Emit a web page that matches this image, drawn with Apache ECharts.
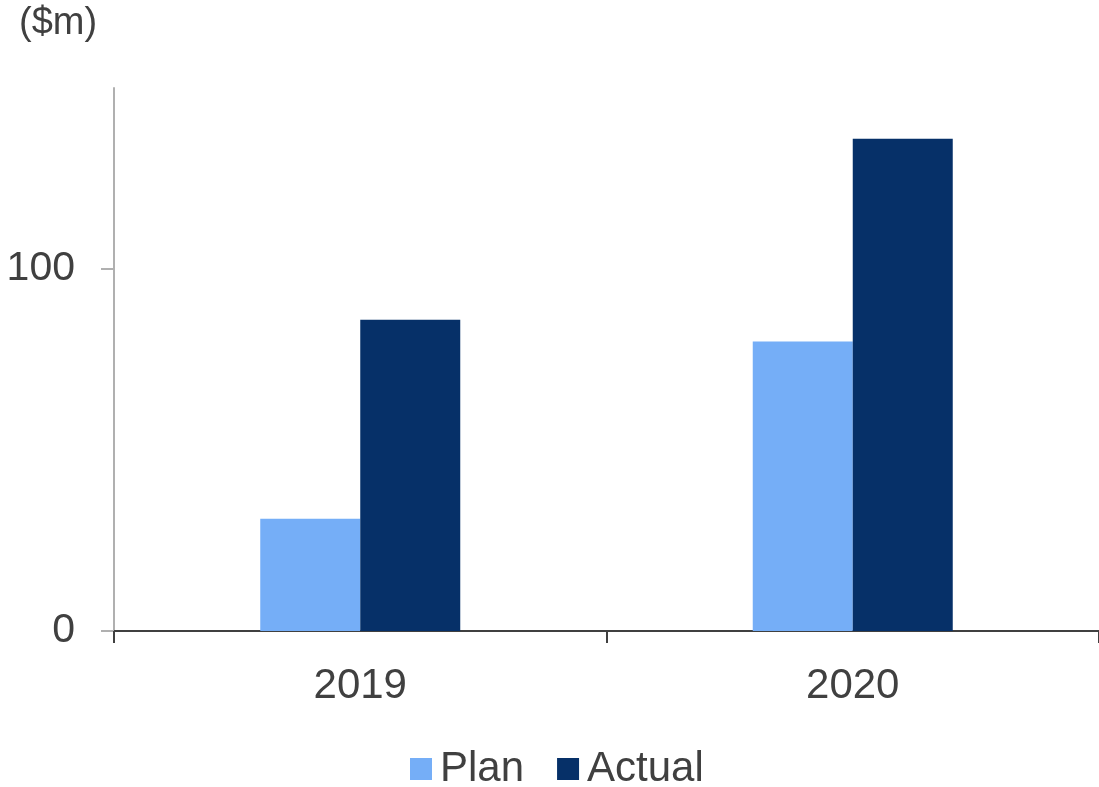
<!DOCTYPE html>
<html>
<head>
<meta charset="utf-8">
<script src="https://cdn.jsdelivr.net/npm/echarts@6/dist/echarts.min.js"></script>
<style>
  html, body { margin: 0; padding: 0; background: #fff; }
  #chart { width: 1099px; height: 787px; }
</style>
</head>
<body>
<div id="chart"></div>
<script>
// 数据
var years = ['2019', '2020'];
var planValues = [31, 80];
var actualValues = [86, 136];
var yTicks = [0, 100];

var chart = echarts.init(document.getElementById('chart'));

chart.setOption({
  animation: false,
  textStyle: { fontFamily: 'Liberation Sans, Arial, sans-serif' },
  title: {
    text: '($m)',
    left: 14,
    top: 0,
    textStyle: { fontSize: 38, fontWeight: 'normal', color: '#404040' }
  },
  legend: {
    top: 748,
    left: 410,
    padding: 0,
    itemWidth: 22,
    itemHeight: 22,
    itemGap: 33,
    icon: 'rect',
    textStyle: { fontSize: 42, color: '#404040', padding: [0, 0, 0, 3] },
    data: ['Plan', 'Actual']
  },
  grid: { left: 114, right: 0, top: 88, bottom: 156, containLabel: false },
  xAxis: {
    type: 'category',
    data: years,
    boundaryGap: true,
    axisLine: { lineStyle: { color: '#404040', width: 2 } },
    axisTick: { show: true, length: 12, lineStyle: { color: '#404040', width: 2 } },
    axisLabel: { fontSize: 42, color: '#404040', margin: 34 }
  },
  yAxis: {
    type: 'value',
    min: 0,
    max: 150,
    axisLine: { show: true, lineStyle: { color: '#b0b0b0', width: 2 } },
    axisTick: { show: true, length: 13, customValues: yTicks, lineStyle: { color: '#b0b0b0', width: 2 } },
    axisLabel: { fontSize: 41, color: '#404040', margin: 39, customValues: yTicks },
    splitLine: { show: false }
  },
  series: [
    {
      name: 'Plan',
      type: 'bar',
      data: planValues,
      barWidth: 100,
      barGap: '0%',
      itemStyle: { color: '#75aef7' }
    },
    {
      name: 'Actual',
      type: 'bar',
      data: actualValues,
      barWidth: 100,
      barGap: '0%',
      itemStyle: { color: '#063068' }
    }
  ]
});

window.addEventListener('resize', function () {
  chart.resize();
});
</script>
</body>
</html>
